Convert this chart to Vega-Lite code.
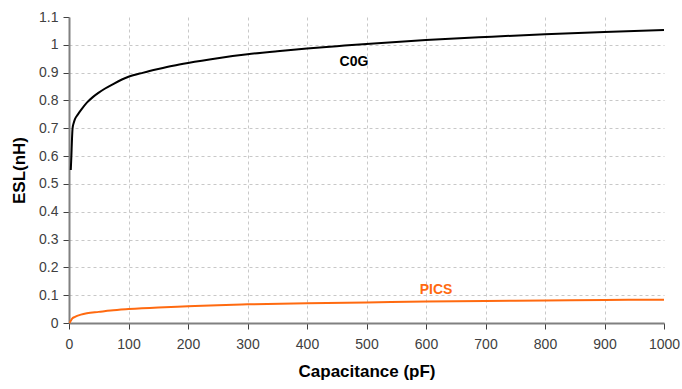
{
  "$schema": "https://vega.github.io/schema/vega-lite/v6.json",
  "width": 595,
  "height": 306,
  "autosize": {"type": "none"},
  "padding": {"left": 69, "top": 17, "right": 18, "bottom": 66},
  "background": "white",
  "config": {
    "view": {"stroke": null},
    "font": "Liberation Sans",
    "axis": {
      "labelFont": "Liberation Sans",
      "labelFontSize": 14,
      "labelColor": "#404040",
      "labelOverlap": false,
      "labelFlush": false,
      "titleFont": "Liberation Sans",
      "titleFontSize": 17,
      "titleFontWeight": "bold",
      "titleColor": "#000000",
      "domainColor": "#808080",
      "domainWidth": 2,
      "tickColor": "#404040",
      "tickSize": 6,
      "gridColor": "#c8c8c8",
      "gridDash": [3, 3],
      "gridWidth": 1
    }
  },
  "datasets": {
    "curves": [
      {"cap": 3, "esl": 0.55, "type": "C0G"},
      {"cap": 4, "esl": 0.6, "type": "C0G"},
      {"cap": 5, "esl": 0.66, "type": "C0G"},
      {"cap": 6, "esl": 0.7, "type": "C0G"},
      {"cap": 8, "esl": 0.72, "type": "C0G"},
      {"cap": 10, "esl": 0.733, "type": "C0G"},
      {"cap": 15, "esl": 0.75, "type": "C0G"},
      {"cap": 20, "esl": 0.765, "type": "C0G"},
      {"cap": 30, "esl": 0.792, "type": "C0G"},
      {"cap": 40, "esl": 0.812, "type": "C0G"},
      {"cap": 50, "esl": 0.828, "type": "C0G"},
      {"cap": 60, "esl": 0.842, "type": "C0G"},
      {"cap": 75, "esl": 0.86, "type": "C0G"},
      {"cap": 100, "esl": 0.885, "type": "C0G"},
      {"cap": 125, "esl": 0.9, "type": "C0G"},
      {"cap": 150, "esl": 0.913, "type": "C0G"},
      {"cap": 175, "esl": 0.925, "type": "C0G"},
      {"cap": 200, "esl": 0.935, "type": "C0G"},
      {"cap": 250, "esl": 0.952, "type": "C0G"},
      {"cap": 300, "esl": 0.966, "type": "C0G"},
      {"cap": 350, "esl": 0.977, "type": "C0G"},
      {"cap": 400, "esl": 0.987, "type": "C0G"},
      {"cap": 450, "esl": 0.995, "type": "C0G"},
      {"cap": 500, "esl": 1.003, "type": "C0G"},
      {"cap": 600, "esl": 1.017, "type": "C0G"},
      {"cap": 700, "esl": 1.028, "type": "C0G"},
      {"cap": 800, "esl": 1.038, "type": "C0G"},
      {"cap": 900, "esl": 1.046, "type": "C0G"},
      {"cap": 1000, "esl": 1.053, "type": "C0G"},
      {"cap": 1, "esl": 0.0, "type": "PICS"},
      {"cap": 3, "esl": 0.008, "type": "PICS"},
      {"cap": 5, "esl": 0.015, "type": "PICS"},
      {"cap": 10, "esl": 0.022, "type": "PICS"},
      {"cap": 20, "esl": 0.03, "type": "PICS"},
      {"cap": 30, "esl": 0.035, "type": "PICS"},
      {"cap": 50, "esl": 0.04, "type": "PICS"},
      {"cap": 70, "esl": 0.045, "type": "PICS"},
      {"cap": 100, "esl": 0.05, "type": "PICS"},
      {"cap": 150, "esl": 0.056, "type": "PICS"},
      {"cap": 200, "esl": 0.06, "type": "PICS"},
      {"cap": 250, "esl": 0.064, "type": "PICS"},
      {"cap": 300, "esl": 0.067, "type": "PICS"},
      {"cap": 400, "esl": 0.071, "type": "PICS"},
      {"cap": 500, "esl": 0.074, "type": "PICS"},
      {"cap": 600, "esl": 0.077, "type": "PICS"},
      {"cap": 700, "esl": 0.079, "type": "PICS"},
      {"cap": 800, "esl": 0.081, "type": "PICS"},
      {"cap": 900, "esl": 0.083, "type": "PICS"},
      {"cap": 1000, "esl": 0.084, "type": "PICS"}
    ],
    "labels": [
      {"cap": 479, "esl": 0.94, "type": "C0G"},
      {"cap": 617, "esl": 0.12, "type": "PICS"}
    ]
  },
  "encoding": {
    "x": {
      "field": "cap", "type": "quantitative",
      "scale": {"domain": [0, 1000], "nice": false},
      "axis": {
        "title": "Capacitance (pF)",
        "values": [0, 100, 200, 300, 400, 500, 600, 700, 800, 900, 1000],
        "format": "d",
        "labelOverlap": false,
        "labelFlush": false,
        "labelPadding": 8,
        "titlePadding": 12,
        "gridColor": {"condition": {"test": "datum.value <= 0 || datum.value >= 1000", "value": "transparent"}, "value": "#c8c8c8"}
      }
    },
    "y": {
      "field": "esl", "type": "quantitative",
      "scale": {"domain": [0, 1.1], "nice": false},
      "axis": {
        "title": "ESL(nH)",
        "values": [0, 0.1, 0.2, 0.3, 0.4, 0.5, 0.6, 0.7, 0.8, 0.9, 1, 1.1],
        "labelExpr": "format(datum.value, '~g')",
        "labelOverlap": false,
        "labelFlush": false,
        "labelBound": false,
        "labelPadding": 5,
        "titlePadding": 10,
        "gridColor": {"condition": {"test": "datum.value <= 0 || datum.value >= 1.05", "value": "transparent"}, "value": "#c8c8c8"}
      }
    },
    "color": {
      "field": "type", "type": "nominal",
      "scale": {"domain": ["C0G", "PICS"], "range": ["#000000", "#ff6a10"]},
      "legend": null
    }
  },
  "layer": [
    {
      "data": {"name": "curves"},
      "mark": {"type": "line", "strokeWidth": 2, "interpolate": "monotone"},
      "encoding": {
        "order": {"field": "cap", "type": "quantitative"}
      }
    },
    {
      "data": {"name": "labels"},
      "mark": {"type": "text", "fontSize": 14, "fontWeight": "bold", "font": "Liberation Sans"},
      "encoding": {
        "text": {"field": "type"}
      }
    }
  ]
}
